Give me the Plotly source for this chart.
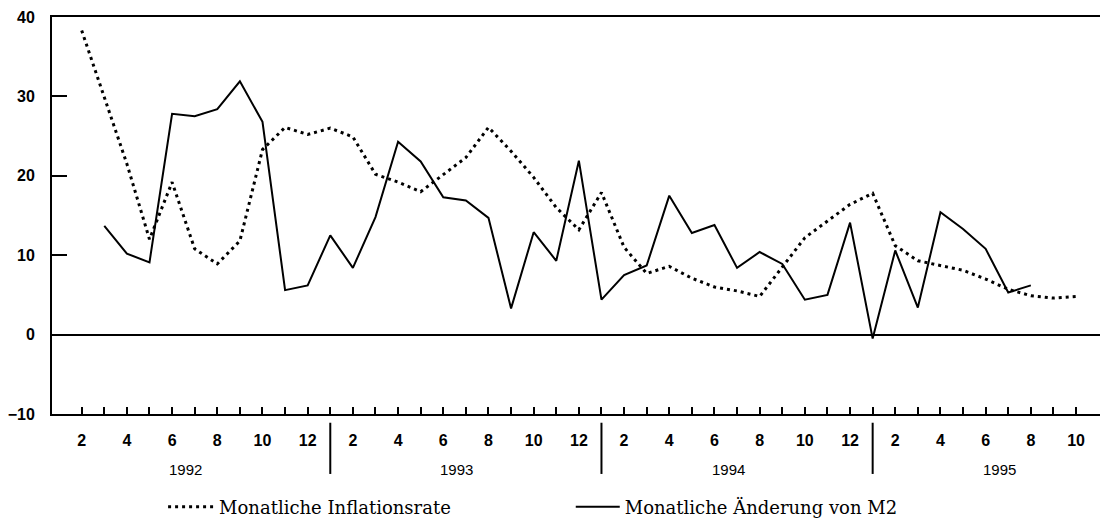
import plotly.graph_objects as go

# month index: 1 = Jan 1992
infl_months = list(range(2, 47))
inflation = [38.3, 30.0, 21.5, 12.0, 19.2, 10.8, 8.9, 11.8, 23.3, 26.1, 25.2, 26.0,
             24.9, 20.2, 19.2, 18.0, 20.2, 22.3, 26.1, 23.1, 19.8, 16.0, 13.2, 17.9,
             11.0, 7.7, 8.6, 7.1, 6.0, 5.5, 4.8, 8.5, 12.2, 14.3, 16.4, 17.8,
             11.2, 9.3, 8.7, 8.1, 7.0, 5.7, 4.9, 4.6, 4.8]
m2_months = list(range(3, 45))
m2_change = [13.7, 10.2, 9.1, 27.8, 27.5, 28.4, 31.9, 26.8, 5.6, 6.2, 12.5,
             8.4, 14.8, 24.3, 21.8, 17.3, 16.9, 14.7, 3.3, 12.9, 9.3, 21.9,
             4.4, 7.5, 8.7, 17.5, 12.8, 13.8, 8.4, 10.4, 8.9, 4.4, 5.0, 14.1,
             -0.5, 10.6, 3.4, 15.4, 13.3, 10.8, 5.3, 6.2]
years = ["1992", "1993", "1994", "1995"]
month_labels = ["", "2", "", "4", "", "6", "", "8", "", "10", "", "12"]
series_names = ["Monatliche Inflationsrate", "Monatliche Änderung von M2"]
y_ticks = [-10, 0, 10, 20, 30, 40]

tick_vals = list(range(2, 47))
tick_text = [month_labels[(m - 1) % 12] for m in tick_vals]

fig = go.Figure()
fig.add_trace(go.Scatter(x=infl_months, y=inflation, mode="lines", name=series_names[0],
                         line=dict(color="black", width=3, dash="3px,4px"),
                         legend="legend", showlegend=True))
fig.add_trace(go.Scatter(x=m2_months, y=m2_change, mode="lines", name=series_names[1],
                         line=dict(color="black", width=2),
                         legend="legend2", showlegend=True))

tick_font = dict(family="Liberation Sans", size=16, color="black", weight="bold")

# year dividers and labels
for k, yr in enumerate(years):
    if k > 0:
        fig.add_shape(type="line", xref="x", yref="paper", x0=1 + 12 * k, x1=1 + 12 * k,
                      y0=-0.022, y1=-0.151, line=dict(color="black", width=2))
    fig.add_annotation(x=6.6 + 12 * k, xref="x", y=-0.14, yref="paper", text=yr,
                       showarrow=False, yanchor="middle",
                       font=dict(family="Liberation Sans", size=15, color="black"))

legend_font = dict(family="DejaVu Serif", size=18, color="black")
fig.update_layout(
    width=1100, height=521,
    margin=dict(l=52, r=0, t=17, b=107),
    plot_bgcolor="white", paper_bgcolor="white",
    showlegend=True,
    legend=dict(orientation="h", x=0.106, xanchor="left", xref="paper",
                y=0.027, yanchor="middle", yref="container",
                font=legend_font, itemwidth=46, bgcolor="rgba(0,0,0,0)"),
    legend2=dict(orientation="h", x=0.495, xanchor="left", xref="paper",
                 y=0.027, yanchor="middle", yref="container",
                 font=legend_font, itemwidth=44, bgcolor="rgba(0,0,0,0)"),
    xaxis=dict(range=[0.686, 47.06], tickmode="array", tickvals=tick_vals, ticktext=tick_text,
               ticks="inside", ticklen=7, tickwidth=1.5, tickcolor="black",
               showline=True, linecolor="black", linewidth=2, mirror=True,
               showgrid=False, zeroline=False, tickfont=tick_font,
               ticklabelstandoff=11),
    yaxis=dict(range=[-10, 40], tickmode="array", tickvals=y_ticks,
               ticks="inside", ticklen=15, tickwidth=2, tickcolor="black",
               showline=True, linecolor="black", linewidth=2,
               showgrid=False, zeroline=True, zerolinecolor="black", zerolinewidth=2,
               tickfont=tick_font, ticklabelstandoff=12),
)

fig.write_html("out.html", config={"displayModeBar": False},
               post_script="document.body.style.margin='0px';")
